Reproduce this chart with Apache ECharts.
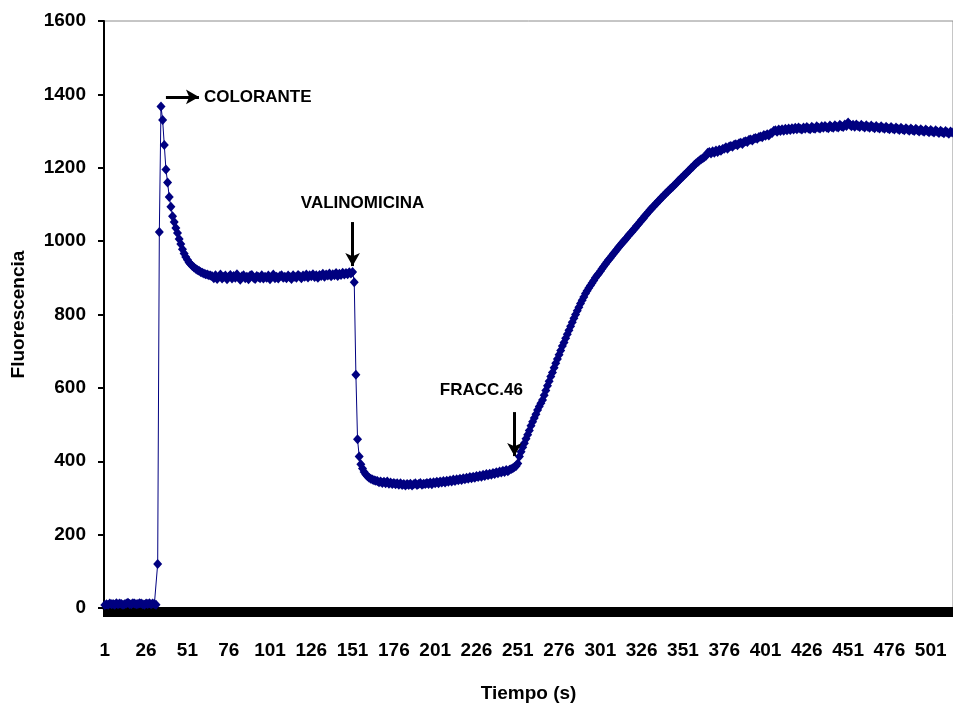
<!DOCTYPE html>
<html>
<head>
<meta charset="utf-8">
<script src="https://cdn.jsdelivr.net/npm/echarts@6/dist/echarts.min.js"></script>
<style>
html,body{margin:0;padding:0;background:#fff;}
#chart{width:953px;height:708px;}
</style>
</head>
<body>
<div id="chart"></div>
<script>
// ---- data ----
// time points 1..32: baseline before dye
var baseline = [8,10,9,12,10,11,9,13,10,12,11,9,10,12,14,11,10,13,12,10,11,13,12,10,9,12,11,13,10,12,11,9];
// 33..65: dye addition peak and decay
var peakDecay = [120,1025,1367,1330,1262,1195,1160,1120,1094,1068,1052,1036,1022,1006,992,978,966,957,949,942,937,932,928,925,921,919,916,914,912,910,909,907,906];
// 66..150: plateau
var plateau = [904,899,907,897,903,909,898,902,906,896,
  903,908,898,905,900,910,901,895,904,907,
  899,903,896,906,908,900,897,905,902,899,
  907,898,903,900,906,896,902,909,899,903,
  898,905,907,900,903,899,906,902,897,907,
  903,900,908,904,899,906,903,909,901,907,
  904,910,902,907,900,908,905,911,903,909,
  906,912,904,910,907,913,905,911,908,914,
  909,913,910,915,912];
// 151..165: valinomycin drop
var drop = [916,888,636,460,413,392,380,371,364,359,355,352,350,348,347];
// 166..250: trough
var trough = [346,343,345,341,344,340,345,339,342,338,
  341,337,340,336,340,335,338,334,338,335,
  339,334,337,340,335,338,341,336,339,338,
  341,338,342,337,343,340,344,340,345,342,
  346,342,347,344,348,345,350,346,351,348,
  352,349,354,351,355,352,357,354,358,355,
  360,357,361,358,363,360,365,362,366,363,
  368,365,370,367,372,369,374,371,376,373,
  377,379,381,384,387];
// 251..320: rise after FRACC.46
var riseA = [394,413,426,438,449,461,472,484,497,508,
  518,528,540,549,558,567,580,593,606,618,
  631,642,655,667,679,690,702,714,724,735,
  746,757,768,779,790,800,810,820,830,839,
  848,857,865,872,879,886,893,900,906,912,
  918,925,931,937,943,949,954,960,966,971,
  977,983,988,994,999,1004,1009,1015,1020,1025];
// 321..360
var riseB = [1031,1035,1042,1046,1052,1058,1062,1069,1073,1079,
  1085,1089,1094,1099,1103,1109,1113,1118,1122,1127,
  1132,1136,1141,1145,1149,1154,1158,1163,1167,1172,
  1176,1181,1185,1190,1194,1199,1203,1208,1212,1216];
// 361..375
var riseC = [1220,1223,1226,1229,1233,1241,1243,1239,1245,1241,1247,1243,1249,1246,1251];
// 376..413
var riseD = [1252,1256,1252,1258,1259,1257,1263,1264,1261,1267,
  1268,1265,1271,1272,1270,1276,1277,1274,1280,1281,
  1279,1284,1285,1283,1289,1287,1291,1288,1294,1295,
  1301,1302,1298,1304,1300,1305,1301,1306];
// 414..514: final plateau
var finalPlateau = [1302,1307,1303,1308,1304,1309,1305,1310,1306,1304,
  1310,1306,1311,1307,1305,1312,1308,1306,1313,1309,
  1307,1313,1309,1314,1310,1308,1315,1311,1309,1316,
  1312,1310,1317,1313,1311,1318,1314,1323,1318,1313,
  1317,1312,1318,1314,1311,1317,1313,1310,1316,1312,
  1309,1315,1311,1308,1314,1310,1307,1313,1309,1306,
  1312,1308,1305,1311,1307,1304,1310,1306,1303,1309,
  1305,1302,1308,1304,1301,1307,1303,1300,1306,1302,
  1299,1305,1301,1298,1304,1300,1297,1303,1299,1296,
  1302,1298,1295,1301,1297,1294,1300,1296,1293,1299,
  1296];

var yTicks = [0,200,400,600,800,1000,1200,1400,1600];
var annotations = [
  {text:'COLORANTE', x:'61', y:1393, pos:'right'},
  {text:'VALINOMICINA', x:'157', y:1104, pos:'inside'},
  {text:'FRACC.46', x:'229', y:594, pos:'inside'}
];
var arrows = [
  {from:['38',1393], to:['58',1393]},
  {from:['151',1052], to:['151',932]},
  {from:['249',534], to:['249',414]}
];

var values = [].concat(baseline, peakDecay, plateau, drop, trough, riseA, riseB, riseC, riseD, finalPlateau);
var categories = [];
for (var i = 1; i <= values.length; i++) categories.push(String(i));

var FONT = 'Liberation Sans, Arial, sans-serif';
var chart = echarts.init(document.getElementById('chart'), null, {renderer:'canvas'});
chart.setOption({
  animation: false,
  backgroundColor: '#ffffff',
  grid: {left:104, right:0, top:21, bottom:100, show:true, borderColor:'#8c8c8c', borderWidth:1,
         containLabel:false, outerBoundsMode:'none'},
  xAxis: {
    type:'category', data:categories, boundaryGap:true,
    name:'Tiempo (s)', nameLocation:'middle', nameGap:76,
    nameTextStyle:{fontFamily:FONT, fontWeight:'bold', fontSize:19, color:'#000'},
    axisLine:{show:true, lineStyle:{color:'#000', width:3}},
    axisTick:{show:true, interval:0, length:9, lineStyle:{color:'#000', width:2}},
    axisLabel:{interval:24, margin:33, fontFamily:FONT, fontWeight:'bold', fontSize:19, color:'#000'},
    splitLine:{show:false}
  },
  yAxis: {
    type:'value', min:0, max:1600, interval:200,
    name:'Fluorescencia', nameLocation:'middle', nameGap:76, nameRotate:90,
    nameTextStyle:{fontFamily:FONT, fontWeight:'bold', fontSize:19, color:'#000'},
    axisLine:{show:true, lineStyle:{color:'#000', width:2}},
    axisTick:{show:true, length:6, lineStyle:{color:'#000', width:2}},
    axisLabel:{margin:18, fontFamily:FONT, fontWeight:'bold', fontSize:19, color:'#000',
      formatter:function(v){return yTicks.indexOf(v)>=0 ? String(v) : '';}},
    splitLine:{show:false}
  },
  series: [{
    type:'line', data:values,
    symbol:'diamond', symbolSize:[9,10], showAllSymbol:true,
    lineStyle:{color:'#000080', width:1},
    itemStyle:{color:'#000080', borderWidth:0},
    z:3,
    markLine:{
      silent:true, symbol:['none','arrow'], symbolSize:[11,13],
      label:{show:false},
      lineStyle:{color:'#000', width:3, type:'solid'},
      data: arrows.map(function(a){return [{coord:a.from},{coord:a.to}];})
    },
    markPoint:{
      silent:true,
      data: annotations.map(function(a){
        return {coord:[a.x,a.y], symbol:'rect', symbolSize:0,
          label:{show:true, position:a.pos, distance:0, formatter:a.text,
            fontFamily:FONT, fontWeight:'bold', fontSize:17, color:'#000'}};
      })
    }
  }]
});
</script>
</body>
</html>
